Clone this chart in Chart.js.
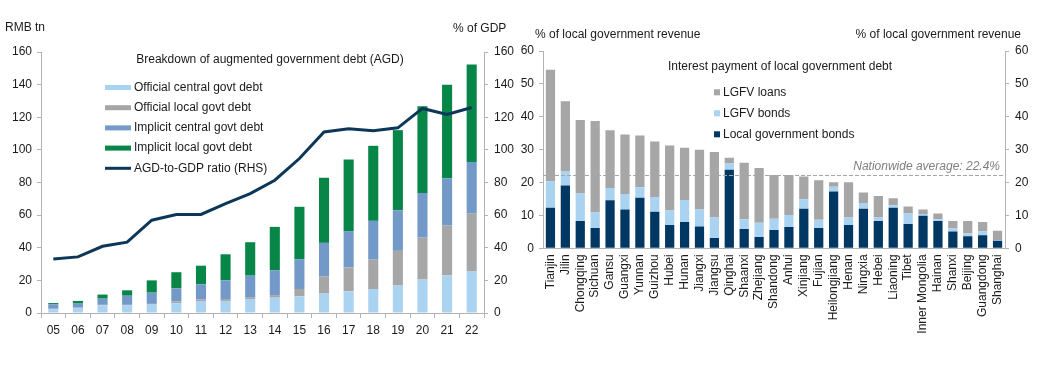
<!DOCTYPE html>
<html><head><meta charset="utf-8">
<script src="https://cdn.jsdelivr.net/npm/chart.js@4.4.1/dist/chart.umd.min.js"></script>
<style>
html,body{margin:0;padding:0;background:#fff;width:1038px;height:367px;overflow:hidden}
#c1{position:absolute;left:0;top:0;width:520px;height:367px}
#c2{position:absolute;left:520px;top:0;width:518px;height:367px}
</style></head><body>
<canvas id="c1" width="520" height="367"></canvas>
<canvas id="c2" width="518" height="367"></canvas>
<script>
// ---------- Left chart data ----------
const years = ['05','06','07','08','09','10','11','12','13','14','15','16','17','18','19','20','21','22'];
const officialCentral = [2.3,3.0,4.7,4.7,5.2,6.0,7.0,7.4,8.6,9.4,10.2,11.9,13.3,14.7,16.8,20.5,23.0,25.4];
const officialLocal   = [0.3,0.3,0.3,0.3,0.4,1.0,1.2,1.2,0.8,1.2,4.5,10.4,14.7,18.0,21.3,25.7,30.6,35.5];
const implicitCentral = [2.7,2.8,3.8,5.6,6.9,8.1,9.4,11.4,13.5,15.6,18.3,20.7,22.2,23.8,24.9,27.4,29.0,31.7];
const implicitLocal   = [0.8,1.3,2.5,3.3,7.5,9.9,11.4,16.0,20.5,26.6,32.1,39.9,43.9,46.0,49.1,53.2,57.3,59.8];
const agdRatio        = [33.1,34.4,40.9,43.4,56.9,60.4,60.4,67.1,73.2,81.4,94.7,111.0,113.0,111.7,113.5,125.4,121.7,126.0];
const leftTicks = {min:0, max:160, step:20};

// ---------- Right chart data ----------
const provinces = ['Tianjin','Jilin','Chongqing','Sichuan','Gansu','Guangxi','Yunnan','Guizhou','Hubei','Hunan','Jiangxi','Jiangsu','Qinghai','Shaanxi','Zhejiang','Shandong','Anhui','Xinjiang','Fujian','Heilongjiang','Henan','Ningxia','Hebei','Liaoning','Tibet','Inner Mongolia','Hainan','Shanxi','Beijing','Guangdong','Shanghai'];
const localGovtBonds = [12.3,19.1,8.3,6.2,14.6,11.8,15.4,11.1,7.1,8.0,6.6,3.1,23.9,5.9,3.4,5.6,6.5,12.0,6.2,17.3,7.1,12.0,8.3,12.3,7.4,9.9,8.3,5.1,3.7,4.0,2.3];
const lgfvBonds      = [8.1,4.4,8.4,4.7,3.7,4.7,3.2,4.5,4.4,6.7,5.2,6.3,1.9,2.9,4.4,3.4,3.6,2.9,2.5,1.4,2.3,1.8,1.1,0.8,3.2,0.5,0.5,0.9,0.9,1.2,0.2];
const lgfvLoans      = [33.9,21.2,22.3,27.8,17.6,18.1,15.7,16.9,19.8,15.9,18.2,19.9,1.7,17.2,16.6,13.3,12.2,6.9,12.0,1.4,10.7,3.2,6.5,2.1,2.1,1.4,1.8,2.3,3.7,2.8,2.8];
const nationwideAverage = 22.4;
const rightTicks = {min:0, max:60, step:10};

// ---------- Styles ----------
const FONT = "'Liberation Sans', Arial, sans-serif";
Chart.defaults.font.family = FONT;
Chart.defaults.font.size = 12;
Chart.defaults.color = '#1a1a1a';
const C_LB = '#aad2f1', C_GR = '#a6a6a6', C_BL = '#7399c9', C_GN = '#078647', C_NV = '#0c3759', C_NV2 = '#003863';
const AX = '#b3b3b3';

function fixW(w){ return s => { s.width = w; }; }
function fixH(h){ return s => { s.height = h; }; }

const leftDecor = {
  id:'leftDecor',
  afterDraw(chart){
    const ctx = chart.ctx;
    ctx.save();
    ctx.fillStyle = '#1a1a1a';
    ctx.font = '12px ' + FONT;
    ctx.textBaseline = 'middle';
    ctx.textAlign = 'left';
    ctx.fillText('RMB tn', 5, 28);
    ctx.fillText('% of GDP', 453, 29);
    ctx.textAlign = 'center';
    ctx.fillText('Breakdown of augmented government debt (AGD)', 270, 60);
    ctx.textAlign = 'left';
    const order = [1,2,3,4,0];
    order.forEach((di, i) => {
      const ds = chart.data.datasets[di];
      const y = 87.5 + i * 20.2;
      if (ds.type === 'line') {
        ctx.fillStyle = ds.borderColor;
        ctx.fillRect(105, y - 1.5, 26, 3);
      } else {
        ctx.fillStyle = ds.backgroundColor;
        ctx.fillRect(105, y - 2.5, 26, 5);
      }
      ctx.fillStyle = '#1a1a1a';
      ctx.fillText(ds.label, 134, y);
    });
    ctx.restore();
  }
};

new Chart(document.getElementById('c1'), {
  type:'bar',
  data:{
    labels: years,
    datasets:[
      {type:'line', label:'AGD-to-GDP ratio (RHS)', data:agdRatio, yAxisID:'y1', borderColor:C_NV, backgroundColor:C_NV, borderWidth:3, pointRadius:0, tension:0, order:0},
      {label:'Official central govt debt', data:officialCentral, backgroundColor:C_LB, yAxisID:'y', order:1},
      {label:'Official local govt debt', data:officialLocal, backgroundColor:C_GR, yAxisID:'y', order:1},
      {label:'Implicit central govt debt', data:implicitCentral, backgroundColor:C_BL, yAxisID:'y', order:1},
      {label:'Implicit local govt debt', data:implicitLocal, backgroundColor:C_GN, yAxisID:'y', order:1}
    ]
  },
  options:{
    responsive:false, animation:false,
    layout:{padding:{top:52, left:0, right:0, bottom:0}},
    plugins:{legend:{display:false}, tooltip:{enabled:false}},
    datasets:{bar:{categoryPercentage:1, barPercentage:0.41}},
    scales:{
      x:{stacked:true, grid:{offset:true, drawOnChartArea:false, tickLength:5, color:AX}, border:{color:AX},
         ticks:{padding:5, maxRotation:0, autoSkip:false}, afterFit:fixH(54)},
      y:{stacked:true, position:'left', min:leftTicks.min, max:leftTicks.max,
         ticks:{stepSize:leftTicks.step, padding:5}, grid:{drawOnChartArea:false, tickLength:4, color:AX}, border:{color:AX}, afterFit:fixW(41)},
      y1:{stacked:false, position:'right', min:leftTicks.min, max:leftTicks.max,
         ticks:{stepSize:leftTicks.step, padding:6}, grid:{drawOnChartArea:false, tickLength:4, color:AX}, border:{color:AX}, afterFit:fixW(36)}
    }
  },
  plugins:[leftDecor]
});

const rightDecor = {
  id:'rightDecor',
  afterDatasetsDraw(chart){
    const ctx = chart.ctx, a = chart.chartArea;
    const y = chart.scales.y.getPixelForValue(nationwideAverage);
    ctx.save();
    ctx.strokeStyle = '#a6a6a6';
    ctx.lineWidth = 1;
    ctx.setLineDash([4,2]);
    ctx.beginPath();
    ctx.moveTo(a.left, Math.round(y) + 0.5);
    ctx.lineTo(a.right, Math.round(y) + 0.5);
    ctx.stroke();
    ctx.restore();
  },
  afterDraw(chart){
    const ctx = chart.ctx, a = chart.chartArea;
    const y = chart.scales.y.getPixelForValue(nationwideAverage);
    ctx.save();
    ctx.textBaseline = 'middle';
    ctx.font = 'italic 12px ' + FONT;
    ctx.fillStyle = '#7f7f7f';
    ctx.textAlign = 'right';
    ctx.fillText('Nationwide average: ' + nationwideAverage + '%', a.right - 5, y - 8);
    ctx.font = '12px ' + FONT;
    ctx.fillStyle = '#1a1a1a';
    ctx.textAlign = 'left';
    ctx.fillText('% of local government revenue', 15, 35);
    ctx.textAlign = 'right';
    ctx.fillText('% of local government revenue', 501, 35);
    ctx.textAlign = 'left';
    ctx.fillText('Interest payment of local government debt', 148, 67);
    const order = [2,1,0];
    order.forEach((di, i) => {
      const ds = chart.data.datasets[di];
      const yy = 92.3 + i * 21;
      ctx.fillStyle = ds.backgroundColor;
      ctx.fillRect(194, yy - 3, 6, 6);
      ctx.fillStyle = '#1a1a1a';
      ctx.fillText(ds.label, 203, yy);
    });
    ctx.restore();
  }
};

new Chart(document.getElementById('c2'), {
  type:'bar',
  data:{
    labels: provinces,
    datasets:[
      {label:'Local government bonds', data:localGovtBonds, backgroundColor:C_NV2},
      {label:'LGFV bonds', data:lgfvBonds, backgroundColor:C_LB},
      {label:'LGFV loans', data:lgfvLoans, backgroundColor:C_GR}
    ]
  },
  options:{
    responsive:false, animation:false,
    layout:{padding:{top:51, left:0, right:0, bottom:0}},
    plugins:{legend:{display:false}, tooltip:{enabled:false}},
    datasets:{bar:{categoryPercentage:1, barPercentage:0.62}},
    scales:{
      x:{stacked:true, grid:{display:true, drawOnChartArea:false, drawTicks:false, color:AX}, border:{color:AX},
         ticks:{padding:6, minRotation:90, maxRotation:90, autoSkip:false}, afterFit:fixH(118.7)},
      y:{stacked:true, position:'left', min:rightTicks.min, max:rightTicks.max,
         ticks:{stepSize:rightTicks.step, padding:5}, grid:{drawOnChartArea:false, tickLength:4, color:AX}, border:{color:AX}, afterFit:fixW(23)},
      y1:{position:'right', min:rightTicks.min, max:rightTicks.max,
         ticks:{stepSize:rightTicks.step, padding:6}, grid:{drawOnChartArea:false, tickLength:4, color:AX}, border:{color:AX}, afterFit:fixW(33)}
    }
  },
  plugins:[rightDecor]
});
</script>
</body></html>
